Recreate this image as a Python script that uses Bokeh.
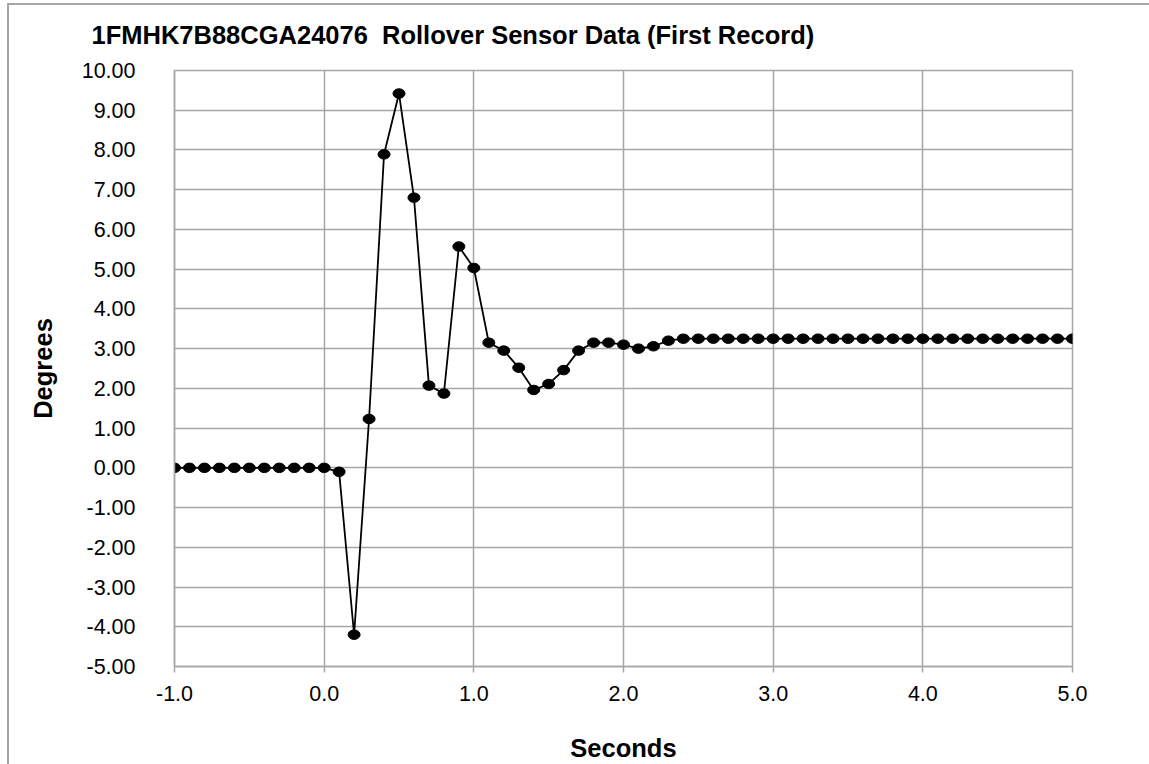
from bokeh.plotting import figure
from bokeh.models import Range1d, FixedTicker
from bokeh.embed import file_html
from bokeh.resources import INLINE

# ---- data ----
seconds = [-1.0, -0.9, -0.8, -0.7, -0.6, -0.5, -0.4, -0.3, -0.2, -0.1, 0.0,
           0.1, 0.2, 0.3, 0.4, 0.5, 0.6, 0.7, 0.8, 0.9, 1.0,
           1.1, 1.2, 1.3, 1.4, 1.5, 1.6, 1.7, 1.8, 1.9, 2.0,
           2.1, 2.2, 2.3, 2.4, 2.5, 2.6, 2.7, 2.8, 2.9, 3.0,
           3.1, 3.2, 3.3, 3.4, 3.5, 3.6, 3.7, 3.8, 3.9, 4.0,
           4.1, 4.2, 4.3, 4.4, 4.5, 4.6, 4.7, 4.8, 4.9, 5.0]
degrees = [0.00, 0.00, 0.00, 0.00, 0.00, 0.00, 0.00, 0.00, 0.00, 0.00, 0.00,
           -0.10, -4.20, 1.23, 7.89, 9.42, 6.80, 2.07, 1.87, 5.57, 5.03,
           3.15, 2.95, 2.52, 1.96, 2.11, 2.46, 2.95, 3.15, 3.15, 3.10,
           3.00, 3.06, 3.20, 3.25, 3.25, 3.25, 3.25, 3.25, 3.25, 3.25,
           3.25, 3.25, 3.25, 3.25, 3.25, 3.25, 3.25, 3.25, 3.25, 3.25,
           3.25, 3.25, 3.25, 3.25, 3.25, 3.25, 3.25, 3.25, 3.25, 3.25]
x_ticks = [-1, 0, 1, 2, 3, 4, 5]
x_tick_labels = ["-1.0", "0.0", "1.0", "2.0", "3.0", "4.0", "5.0"]
y_ticks = [-5, -4, -3, -2, -1, 0, 1, 2, 3, 4, 5, 6, 7, 8, 9, 10]
y_tick_labels = ["-5.00", "-4.00", "-3.00", "-2.00", "-1.00", "0.00", "1.00", "2.00",
                 "3.00", "4.00", "5.00", "6.00", "7.00", "8.00", "9.00", "10.00"]

title_text = "1FMHK7B88CGA24076\u00a0 Rollover Sensor Data (First Record)"
FONT = "Liberation Sans"
GRID = "#a6a6a6"

p = figure(width=1149, height=764, output_backend="svg", toolbar_location=None,
           x_range=Range1d(-1, 5), y_range=Range1d(-5, 10),
           min_border_left=174, min_border_right=77, min_border_top=70, min_border_bottom=97)
# outer chart-area frame (top and left edges visible, as in the reference)
p.styles = {"background": "linear-gradient(#a6a6a6, #a6a6a6) 7px 3px / 2px 100% no-repeat, "
                          "linear-gradient(#a6a6a6, #a6a6a6) 7px 3px / 100% 2px no-repeat, white"}
p.border_fill_color = None

p.title.text = title_text
p.title.align = "left"
p.title.vertical_align = "top"
p.title.offset = -83
p.title.standoff = 40
p.title.text_font = FONT
p.title.text_font_size = "25.5px"
p.title.text_font_style = "bold"
p.title.text_color = "black"

p.outline_line_color = GRID
p.outline_line_width = 1.5
p.background_fill_color = "white"

# x axis
xa = p.xaxis[0]
xa.ticker = FixedTicker(ticks=x_ticks)
xa.major_label_overrides = {t: l for t, l in zip(x_ticks, x_tick_labels)}
xa.axis_label = "Seconds"
xa.axis_label_text_font = FONT
xa.axis_label_text_font_size = "25.5px"
xa.axis_label_text_font_style = "bold"
xa.axis_label_text_color = "black"
xa.axis_label_standoff = 30
xa.axis_label_text_line_height = 1.0
xa.major_label_text_font = FONT
xa.major_label_text_font_size = "21.5px"
xa.major_label_text_color = "black"
xa.major_label_standoff = 13
xa.axis_line_color = GRID
xa.axis_line_width = 1.5
xa.major_tick_line_color = GRID
xa.major_tick_line_width = 1.5
xa.major_tick_out = 6
xa.major_tick_in = 0
xa.minor_tick_line_color = None

# y axis
ya = p.yaxis[0]
ya.ticker = FixedTicker(ticks=y_ticks)
ya.major_label_overrides = {t: l for t, l in zip(y_ticks, y_tick_labels)}
ya.axis_label = "Degrees"
ya.axis_label_text_font = FONT
ya.axis_label_text_font_size = "25.5px"
ya.axis_label_text_font_style = "bold"
ya.axis_label_text_color = "black"
ya.axis_label_standoff = 22
ya.major_label_text_font = FONT
ya.major_label_text_font_size = "21.5px"
ya.major_label_text_color = "black"
ya.major_label_standoff = 33
ya.axis_line_color = GRID
ya.axis_line_width = 1.5
ya.major_tick_line_color = None
ya.minor_tick_line_color = None

p.xgrid.ticker = FixedTicker(ticks=x_ticks)
p.ygrid.ticker = FixedTicker(ticks=y_ticks)
p.grid.grid_line_color = GRID
p.grid.grid_line_width = 1.5

p.line(seconds, degrees, line_color="black", line_width=1.8)
p.ellipse(x=seconds, y=degrees, width=12, height=9.5, width_units="screen",
          height_units="screen", fill_color="black", line_color="black")

open("out.html", "w").write(file_html(p, INLINE))
